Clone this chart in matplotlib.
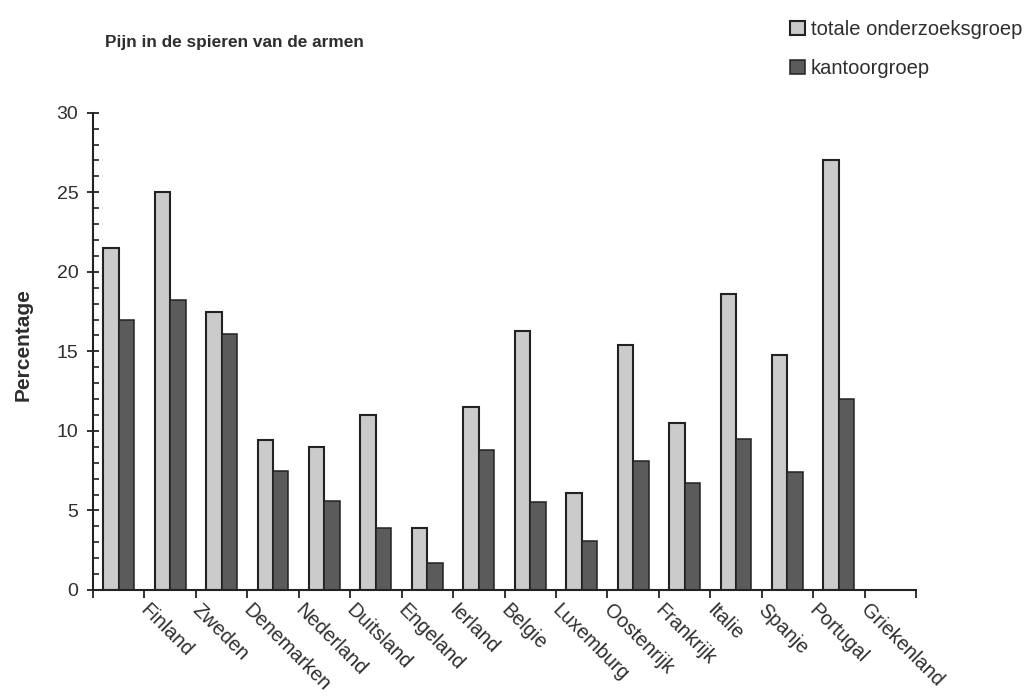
import numpy as np
import matplotlib
matplotlib.use("Agg")
import matplotlib.pyplot as plt
import matplotlib.transforms as mtransforms
from matplotlib.patches import Patch
from matplotlib.ticker import MultipleLocator

plt.rcParams['font.family'] = ['Liberation Sans', 'DejaVu Sans']

# landen en percentages
landen = ["Finland", "Zweden", "Denemarken", "Nederland", "Duitsland", "Engeland",
          "Ierland", "Belgie", "Luxemburg", "Oostenrijk", "Frankrijk", "Italie",
          "Spanje", "Portugal", "Griekenland"]
totaal = [21.5, 25.0, 17.5, 9.4, 9.0, 11.0, 3.9, 11.5, 16.3, 6.1, 15.4, 10.5, 18.6, 14.8, 27.0]
kantoor = [17.0, 18.2, 16.1, 7.5, 5.6, 3.9, 1.7, 8.8, 5.5, 3.1, 8.1, 6.7, 9.5, 7.4, 12.0]

kleur_licht = '#cbcbcb'
kleur_donker = '#5b5b5b'
rand = '#222222'
tekst = '#2e2e2e'

fig = plt.figure(figsize=(10.28, 6.96), dpi=100)
ax = fig.add_axes([93/1028, 1 - 590/696, (916 - 93)/1028, (590 - 112.7)/696])

x = np.arange(len(landen))
b = 0.3
ax.bar(x - b/2, totaal, b, color=kleur_licht, edgecolor=rand, linewidth=1.5)
ax.bar(x + b/2, kantoor, b, color=kleur_donker, edgecolor=rand, linewidth=1.1)

ax.set_xlim(-0.5, len(landen) + 0.5)
ax.set_ylim(0, 30)

# y-as: hoofdstreepjes per 5, kleine per 1
ax.yaxis.set_major_locator(MultipleLocator(5))
ax.yaxis.set_minor_locator(MultipleLocator(1))
ax.tick_params(axis='y', which='major', direction='inout', length=9, width=1.3,
               labelsize=14, pad=6, colors=rand, labelcolor=tekst)
ax.tick_params(axis='y', which='minor', direction='in', length=4, width=1.2, colors=rand)

# x-as: streepjes op de grenzen, namen schuin eronder
ax.set_xticks(x + 0.5)
ax.set_xticklabels(landen, rotation=-45, ha='left', va='top', rotation_mode='anchor')
ax.set_xticks([-0.5, len(landen) + 0.5], minor=True)
ax.tick_params(axis='x', which='both', direction='out', length=6, width=1.3,
               labelsize=14.3, pad=3, colors=rand, labelcolor=tekst)
verschuiving = mtransforms.ScaledTranslation(6/100, 2/100, fig.dpi_scale_trans)
for lbl in ax.get_xticklabels():
    lbl.set_transform(lbl.get_transform() + verschuiving)

for kant in ['top', 'right']:
    ax.spines[kant].set_visible(False)
for kant in ['left', 'bottom']:
    ax.spines[kant].set_linewidth(1.5)
    ax.spines[kant].set_color(rand)

ax.set_ylabel("Percentage", fontsize=15, fontweight='bold', color=tekst)
ax.yaxis.set_label_coords(-0.073, 0.515)

fig.text(105/1028, 1 - 42/696, "Pijn in de spieren van de armen", fontsize=12.4,
         fontweight='bold', color=tekst, va='center', ha='left')

handles = [Patch(facecolor=kleur_licht, edgecolor=rand, linewidth=1.5),
           Patch(facecolor=kleur_donker, edgecolor=rand, linewidth=1.1)]
fig.legend(handles, ["totale onderzoeksgroep", "kantoorgroep"], loc='upper left',
           bbox_to_anchor=(772/1028, 1 - 2/696), frameon=False, fontsize=14.5,
           handlelength=0.72, handleheight=0.72, handletextpad=0.3, labelspacing=1.0,
           labelcolor=tekst)

fig.savefig("out.png", dpi=100)
